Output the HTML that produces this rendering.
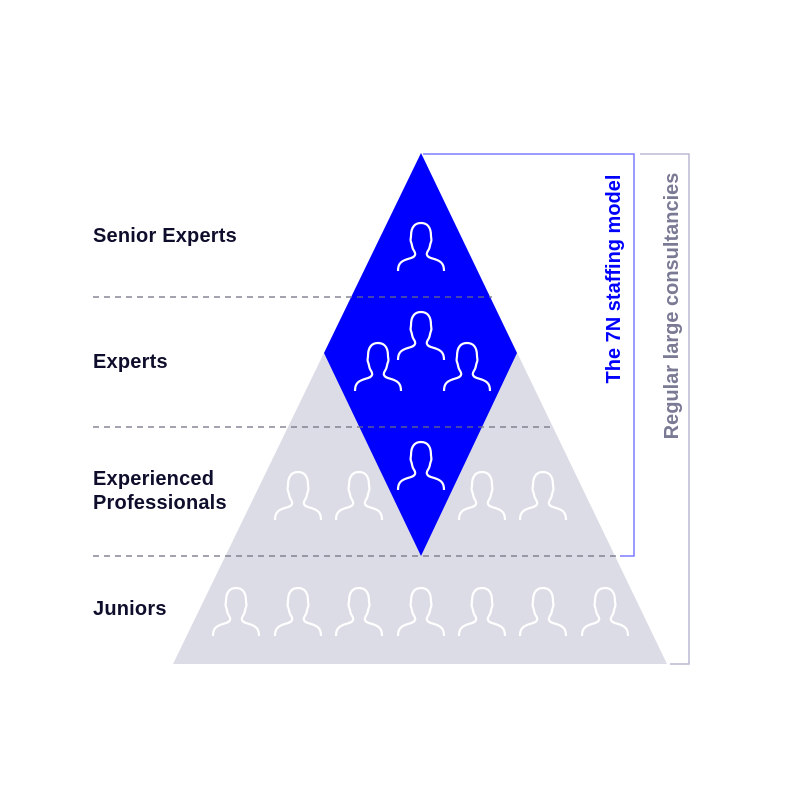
<!DOCTYPE html>
<html><head><style>
html,body{margin:0;padding:0;background:#fff;}
body{width:800px;height:800px;position:relative;overflow:hidden;font-family:"Liberation Sans",sans-serif;}
.l{position:absolute;left:93px;font-weight:bold;font-size:20px;letter-spacing:0.2px;color:#0e0e2c;line-height:24px;}
</style></head><body>
<svg width="800" height="800" style="position:absolute;left:0;top:0">
<defs>
<g id="p"><path d="M1 49 C1 43 3 40 8 38 C13 36 17 36 18 33 C19 31 17 29 16 27 C15 25 15 22 14 20 C13 18 14 16 14 14 C14 5 18 1 24 1 C30 1 34 5 34 14 C34 16 35 18 34 20 C33 22 33 25 32 27 C31 29 29 31 30 33 C31 36 35 36 40 38 C45 40 47 43 47 49" fill="none" stroke="#fff" stroke-width="2.2"/></g>
</defs>
<polygon points="421,153 667,664 173,664" fill="#dcdce6"/>
<polygon points="421,153 517,353 421,556 324,353" fill="#0000ff"/>
<g stroke="#6e6e80" stroke-width="1.3" stroke-dasharray="6,5">
<line x1="93" y1="297" x2="492" y2="297"/>
<line x1="93" y1="427" x2="552" y2="427"/>
<line x1="93" y1="556" x2="620" y2="556"/>
</g>
<use href="#p" x="397" y="222"/>
<use href="#p" x="397" y="311"/>
<use href="#p" x="354" y="342"/>
<use href="#p" x="443" y="342"/>
<use href="#p" x="397" y="441"/>
<use href="#p" x="274" y="471"/>
<use href="#p" x="335" y="471"/>
<use href="#p" x="458" y="471"/>
<use href="#p" x="519" y="471"/>
<use href="#p" x="212" y="587"/>
<use href="#p" x="274" y="587"/>
<use href="#p" x="335" y="587"/>
<use href="#p" x="397" y="587"/>
<use href="#p" x="458" y="587"/>
<use href="#p" x="519" y="587"/>
<use href="#p" x="581" y="587"/>
<polyline points="423,154 634,154 634,556 620,556" fill="none" stroke="#7b7bff" stroke-width="1.5"/>
<polyline points="640,154 689,154 689,664 670,664" fill="none" stroke="#b8b8d0" stroke-width="1.5"/>
<text transform="translate(620,279) rotate(-90)" text-anchor="middle" font-family="Liberation Sans" font-weight="bold" font-size="20" fill="#0000ff">The 7N staffing model</text>
<text transform="translate(678,306) rotate(-90)" text-anchor="middle" font-family="Liberation Sans" font-weight="bold" font-size="20" fill="#7a7a95">Regular large consultancies</text>
</svg>
<div class="l" style="top:224px">Senior Experts</div>
<div class="l" style="top:350px">Experts</div>
<div class="l" style="top:467px">Experienced<br>Professionals</div>
<div class="l" style="top:597px">Juniors</div>
</body></html>
